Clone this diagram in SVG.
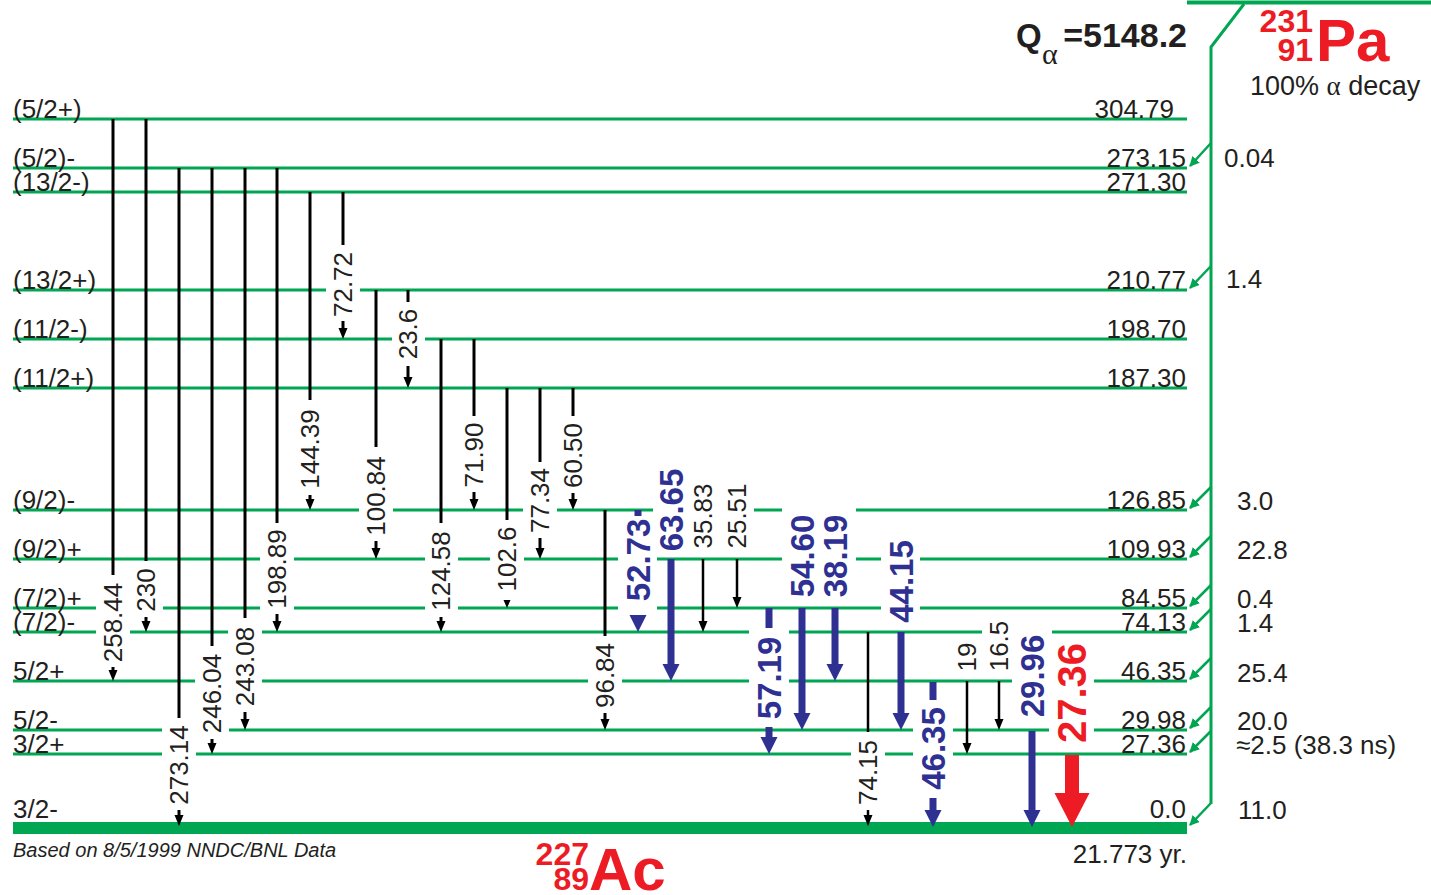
<svg xmlns="http://www.w3.org/2000/svg" width="1431" height="895" viewBox="0 0 1431 895">
<defs>
<style>
text{font-family:"Liberation Sans",Arial,sans-serif;fill:#231f20}
.lv{stroke:#00a651;stroke-width:3;fill:none}
.t{font-size:26px}
.e{font-size:26px;text-anchor:end}
.lb{font-size:26px;text-anchor:middle}
.bl{font-size:33px;font-weight:bold;text-anchor:middle;fill:#2e3192}
.rd{font-size:40px;font-weight:bold;text-anchor:middle;fill:#ed1c24}
.k{stroke:#000;stroke-width:3}
.k2{stroke:#000;stroke-width:2.5}
.kh{fill:#000}
.bs{stroke:#2e3192;stroke-width:7}
.bh{fill:#2e3192}
.gap{fill:#fff}
.ga{stroke:#00a651;stroke-width:2.5;fill:none;marker-end:url(#ga)}
</style>
<marker id="ga" viewBox="0 0 10 10" refX="9" refY="5" markerWidth="4" markerHeight="4" orient="auto" markerUnits="strokeWidth">
<path d="M0,0 L10,5 L0,10 Z" fill="#00a651"/>
</marker>
</defs>
<rect width="1431" height="895" fill="#fff"/>

<g id="levels">
<g id="lvl-304"><line class="lv" x1="13" y1="119" x2="1187" y2="119"/><text class="t" x="13" y="118">(5/2+)</text><text class="e" x="1174" y="118">304.79</text></g>
<g id="lvl-273"><line class="lv" x1="13" y1="168" x2="1187" y2="168"/><text class="t" x="13" y="167">(5/2)-</text><text class="e" x="1186" y="167">273.15</text><text class="t" x="1224" y="167">0.04</text></g>
<g id="lvl-271"><line class="lv" x1="13" y1="192" x2="1187" y2="192"/><text class="t" x="13" y="191">(13/2-)</text><text class="e" x="1186" y="191">271.30</text></g>
<g id="lvl-210"><line class="lv" x1="13" y1="290" x2="1187" y2="290"/><text class="t" x="13" y="289">(13/2+)</text><text class="e" x="1186" y="289">210.77</text><text class="t" x="1226" y="288">1.4</text></g>
<g id="lvl-198"><line class="lv" x1="13" y1="339" x2="1187" y2="339"/><text class="t" x="13" y="338">(11/2-)</text><text class="e" x="1186" y="338">198.70</text></g>
<g id="lvl-187"><line class="lv" x1="13" y1="388" x2="1187" y2="388"/><text class="t" x="13" y="387">(11/2+)</text><text class="e" x="1186" y="387">187.30</text></g>
<g id="lvl-126"><line class="lv" x1="13" y1="510" x2="1187" y2="510"/><text class="t" x="13" y="509">(9/2)-</text><text class="e" x="1186" y="509">126.85</text><text class="t" x="1237" y="510">3.0</text></g>
<g id="lvl-109"><line class="lv" x1="13" y1="559" x2="1187" y2="559"/><text class="t" x="13" y="558">(9/2)+</text><text class="e" x="1186" y="558">109.93</text><text class="t" x="1237" y="559">22.8</text></g>
<g id="lvl-84"><line class="lv" x1="13" y1="608" x2="1187" y2="608"/><text class="t" x="13" y="607">(7/2)+</text><text class="e" x="1186" y="607">84.55</text><text class="t" x="1237" y="608">0.4</text></g>
<g id="lvl-74"><line class="lv" x1="13" y1="632" x2="1187" y2="632"/><text class="t" x="13" y="631">(7/2)-</text><text class="e" x="1186" y="631">74.13</text><text class="t" x="1237" y="632">1.4</text></g>
<g id="lvl-46"><line class="lv" x1="13" y1="681" x2="1187" y2="681"/><text class="t" x="13" y="680">5/2+</text><text class="e" x="1186" y="680">46.35</text><text class="t" x="1237" y="682">25.4</text></g>
<g id="lvl-29"><line class="lv" x1="13" y1="730" x2="1187" y2="730"/><text class="t" x="13" y="729">5/2-</text><text class="e" x="1186" y="729">29.98</text><text class="t" x="1237" y="730">20.0</text></g>
<g id="lvl-27"><line class="lv" x1="13" y1="754" x2="1187" y2="754"/><text class="t" x="13" y="753">3/2+</text><text class="e" x="1186" y="753">27.36</text><text class="t" x="1236" y="754">≈2.5 (38.3 ns)</text></g>
<g id="lvl-0"><rect x="13" y="822" width="1174" height="12" fill="#00a651"/><text class="t" x="13" y="818">3/2-</text><text class="e" x="1186" y="818">0.0</text><text class="t" x="1238" y="819">11.0</text><text class="e" x="1187" y="863">21.773 yr.</text></g>
</g>

<g id="gaps">
<rect class="gap" x="96" y="578" width="34" height="89"/>
<rect class="gap" x="130" y="564" width="33" height="52"/>
<rect class="gap" x="162" y="721" width="34" height="88"/>
<rect class="gap" x="195" y="649" width="34" height="89"/>
<rect class="gap" x="228" y="622" width="34" height="89"/>
<rect class="gap" x="260" y="526" width="34" height="86"/>
<rect class="gap" x="326" y="249" width="34" height="71"/>
<rect class="gap" x="359" y="452" width="34" height="88"/>
<rect class="gap" x="392" y="304" width="33" height="60"/>
<rect class="gap" x="425" y="526" width="33" height="90"/>
<rect class="gap" x="490" y="522" width="34" height="74"/>
<rect class="gap" x="523" y="464" width="34" height="73"/>
<rect class="gap" x="588" y="639" width="34" height="73"/>
<rect class="gap" x="618" y="514" width="39" height="98"/>
<rect class="gap" x="653" y="464" width="37" height="91"/>
<rect class="gap" x="686" y="479" width="34" height="73"/>
<rect class="gap" x="720" y="479" width="34" height="73"/>
<rect class="gap" x="749" y="629" width="40" height="93"/>
<rect class="gap" x="782" y="506" width="38" height="94"/>
<rect class="gap" x="818" y="506" width="38" height="94"/>
<rect class="gap" x="851" y="736" width="34" height="73"/>
<rect class="gap" x="881" y="536" width="39" height="91"/>
<rect class="gap" x="913" y="703" width="40" height="91"/>
<rect class="gap" x="982" y="618" width="34" height="56"/>
<rect class="gap" x="1012" y="629" width="40" height="92"/>
<rect class="gap" x="1049" y="640" width="45" height="107"/>
</g>

<g id="connectors">
<g id="t-258.44"><line class="k" x1="113" y1="119" x2="113" y2="575"/><line class="k" x1="113" y1="667" x2="113" y2="671"/><polygon class="kh" points="108.5,670 117.5,670 113,681"/><text class="lb" transform="translate(122.3,622.5) rotate(-90)">258.44</text></g>
<g id="t-230"><line class="k" x1="146" y1="119" x2="146" y2="561"/><line class="k" x1="146" y1="617" x2="146" y2="622"/><polygon class="kh" points="141.5,621 150.5,621 146,632"/><text class="lb" transform="translate(155.3,590) rotate(-90)">230</text></g>
<g id="t-273.14"><line class="k" x1="179" y1="168" x2="179" y2="718"/><line class="k" x1="179" y1="810" x2="179" y2="816"/><polygon class="kh" points="174.5,815 183.5,815 179,826"/><text class="lb" transform="translate(188.3,765) rotate(-90)">273.14</text></g>
<g id="t-246.04"><line class="k" x1="212" y1="168" x2="212" y2="646"/><line class="k" x1="212" y1="739" x2="212" y2="744"/><polygon class="kh" points="207.5,743 216.5,743 212,754"/><text class="lb" transform="translate(221.3,693.5) rotate(-90)">246.04</text></g>
<g id="t-243.08"><line class="k" x1="245" y1="168" x2="245" y2="618"/><line class="k" x1="245" y1="712" x2="245" y2="720"/><polygon class="kh" points="240.5,719 249.5,719 245,730"/><text class="lb" transform="translate(254.3,666.5) rotate(-90)">243.08</text></g>
<g id="t-198.89"><line class="k" x1="277" y1="168" x2="277" y2="523"/><line class="k" x1="277" y1="614" x2="277" y2="622"/><polygon class="kh" points="272.5,621 281.5,621 277,632"/><text class="lb" transform="translate(286.3,569) rotate(-90)">198.89</text></g>
<g id="t-144.39"><line class="k" x1="310" y1="192" x2="310" y2="400"/><line class="k" x1="310" y1="495" x2="310" y2="500"/><polygon class="kh" points="305.5,499 314.5,499 310,510"/><text class="lb" transform="translate(319.3,449) rotate(-90)">144.39</text></g>
<g id="t-72.72"><line class="k" x1="343" y1="192" x2="343" y2="245"/><line class="k" x1="343" y1="321" x2="343" y2="329"/><polygon class="kh" points="338.5,328 347.5,328 343,339"/><text class="lb" transform="translate(352.3,284.5) rotate(-90)">72.72</text></g>
<g id="t-100.84"><line class="k" x1="376" y1="290" x2="376" y2="447"/><line class="k" x1="376" y1="541" x2="376" y2="549"/><polygon class="kh" points="371.5,548 380.5,548 376,559"/><text class="lb" transform="translate(385.3,496) rotate(-90)">100.84</text></g>
<g id="t-23.6"><line class="k" x1="408" y1="290" x2="408" y2="302"/><line class="k" x1="408" y1="366" x2="408" y2="378"/><polygon class="kh" points="403.5,377 412.5,377 408,388"/><text class="lb" transform="translate(417.3,334) rotate(-90)">23.6</text></g>
<g id="t-124.58"><line class="k" x1="441" y1="339" x2="441" y2="523"/><line class="k" x1="441" y1="617" x2="441" y2="622"/><polygon class="kh" points="436.5,621 445.5,621 441,632"/><text class="lb" transform="translate(450.3,571) rotate(-90)">124.58</text></g>
<g id="t-71.90"><line class="k" x1="474" y1="339" x2="474" y2="416"/><line class="k" x1="474" y1="492" x2="474" y2="500"/><polygon class="kh" points="469.5,499 478.5,499 474,510"/><text class="lb" transform="translate(483.3,455) rotate(-90)">71.90</text></g>
<g id="t-102.6"><line class="k" x1="507" y1="388" x2="507" y2="520"/><polygon class="kh" points="503.5,600 510.5,600 507,608"/><text class="lb" transform="translate(516.3,559) rotate(-90)">102.6</text></g>
<g id="t-77.34"><line class="k" x1="540" y1="388" x2="540" y2="462"/><line class="k" x1="540" y1="538" x2="540" y2="549"/><polygon class="kh" points="535.5,548 544.5,548 540,559"/><text class="lb" transform="translate(549.3,500.5) rotate(-90)">77.34</text></g>
<g id="t-60.50"><line class="k" x1="573" y1="388" x2="573" y2="416"/><line class="k" x1="573" y1="493" x2="573" y2="500"/><polygon class="kh" points="568.5,499 577.5,499 573,510"/><text class="lb" transform="translate(582.3,455.5) rotate(-90)">60.50</text></g>
<g id="t-96.84"><line class="k" x1="605" y1="510" x2="605" y2="636"/><line class="k" x1="605" y1="713" x2="605" y2="720"/><polygon class="kh" points="600.5,719 609.5,719 605,730"/><text class="lb" transform="translate(614.3,675.5) rotate(-90)">96.84</text></g>
<g id="t-52.73"><line class="bs" x1="638" y1="510" x2="638" y2="516"/><polygon class="bh" points="629.5,615 646.5,615 638,632"/><text class="bl" transform="translate(649.8,560) rotate(-90)">52.73</text></g>
<g id="t-63.65"><line class="bs" x1="671" y1="559" x2="671" y2="666"/><polygon class="bh" points="662.5,664 679.5,664 671,681"/><text class="bl" transform="translate(682.8,510) rotate(-90)">63.65</text></g>
<g id="t-35.83"><line class="k2" x1="703" y1="559" x2="703" y2="622"/><polygon class="kh" points="698.5,621 707.5,621 703,632"/><text class="lb" transform="translate(712.3,516) rotate(-90)">35.83</text></g>
<g id="t-25.51"><line class="k2" x1="737" y1="559" x2="737" y2="598"/><polygon class="kh" points="732.5,597 741.5,597 737,608"/><text class="lb" transform="translate(746.3,516) rotate(-90)">25.51</text></g>
<g id="t-57.19"><line class="bs" x1="769" y1="608" x2="769" y2="628"/><line class="bs" x1="769" y1="727" x2="769" y2="739"/><polygon class="bh" points="760.5,737 777.5,737 769,754"/><text class="bl" transform="translate(780.8,678) rotate(-90)">57.19</text></g>
<g id="t-54.60"><line class="bs" x1="802" y1="608" x2="802" y2="715"/><polygon class="bh" points="793.5,713 810.5,713 802,730"/><text class="bl" transform="translate(813.8,556) rotate(-90)">54.60</text></g>
<g id="t-38.19"><line class="bs" x1="835" y1="608" x2="835" y2="666"/><polygon class="bh" points="826.5,664 843.5,664 835,681"/><text class="bl" transform="translate(846.8,556) rotate(-90)">38.19</text></g>
<g id="t-74.15"><line class="k2" x1="868" y1="632" x2="868" y2="732"/><line class="k2" x1="868" y1="810" x2="868" y2="816"/><polygon class="kh" points="863.5,815 872.5,815 868,826"/><text class="lb" transform="translate(877.3,772.5) rotate(-90)">74.15</text></g>
<g id="t-44.15"><line class="bs" x1="901" y1="632" x2="901" y2="715"/><polygon class="bh" points="892.5,713 909.5,713 901,730"/><text class="bl" transform="translate(912.8,581.5) rotate(-90)">44.15</text></g>
<g id="t-46.35"><line class="bs" x1="933" y1="682" x2="933" y2="700"/><line class="bs" x1="933" y1="798" x2="933" y2="812"/><polygon class="bh" points="924.5,810 941.5,810 933,827"/><text class="bl" transform="translate(944.8,748.5) rotate(-90)">46.35</text></g>
<g id="t-19"><line class="k2" x1="967" y1="681" x2="967" y2="744"/><polygon class="kh" points="962.5,743 971.5,743 967,754"/><text class="lb" transform="translate(976.3,657) rotate(-90)">19</text></g>
<g id="t-16.5"><line class="k2" x1="999" y1="681" x2="999" y2="720"/><polygon class="kh" points="994.5,719 1003.5,719 999,730"/><text class="lb" transform="translate(1008.3,646) rotate(-90)">16.5</text></g>
<g id="t-29.96"><line class="bs" x1="1032" y1="731" x2="1032" y2="812"/><polygon class="bh" points="1023.5,810 1040.5,810 1032,827"/><text class="bl" transform="translate(1043.8,676) rotate(-90)">29.96</text></g>
<g id="t-27.36"><rect x="1065" y="755" width="14" height="40" fill="#ed1c24"/><polygon points="1054.5,793 1089.5,793 1072,827" fill="#ed1c24"/><text class="rd" transform="translate(1086.3,693) rotate(-90)">27.36</text></g>

<g id="alpha-feed">
<line class="lv" x1="1187" y1="2.5" x2="1431" y2="2.5" style="stroke-width:4"/>
<polyline class="lv" points="1244,4 1211,47 1211,804"/>
<line class="ga" x1="1211" y1="143" x2="1190" y2="166"/>
<line class="ga" x1="1211" y1="266" x2="1190" y2="288"/>
<line class="ga" x1="1211" y1="487" x2="1190" y2="508"/>
<line class="ga" x1="1211" y1="536" x2="1190" y2="557"/>
<line class="ga" x1="1211" y1="585" x2="1190" y2="606"/>
<line class="ga" x1="1211" y1="609" x2="1190" y2="630"/>
<line class="ga" x1="1211" y1="658" x2="1190" y2="679"/>
<line class="ga" x1="1211" y1="707" x2="1190" y2="728"/>
<line class="ga" x1="1211" y1="731" x2="1190" y2="752"/>
<line class="ga" x1="1211" y1="803" x2="1190" y2="825"/>
</g>
</g>

<g id="parent">
<text x="1016" y="47" style="font-size:33px;font-weight:bold">Q</text>
<text x="1042" y="64" style="font-family:'Liberation Serif',serif;font-size:30px">α</text>
<text x="1187" y="47" style="font-size:34px;font-weight:bold;text-anchor:end">=5148.2</text>
<text x="1313" y="32" style="font-size:32px;font-weight:bold;fill:#ed1c24;text-anchor:end">231</text>
<text x="1313" y="61" style="font-size:32px;font-weight:bold;fill:#ed1c24;text-anchor:end">91</text>
<text x="1316" y="61" style="font-size:60px;font-weight:bold;fill:#ed1c24">Pa</text>
<text x="1250" y="95" style="font-size:27px">100% <tspan style="font-family:'Liberation Serif',serif">α</tspan> decay</text>
</g>

<g id="daughter">
<text x="589" y="865" style="font-size:32px;font-weight:bold;fill:#ed1c24;text-anchor:end">227</text>
<text x="589" y="890" style="font-size:32px;font-weight:bold;fill:#ed1c24;text-anchor:end">89</text>
<text x="589" y="890" style="font-size:60px;font-weight:bold;fill:#ed1c24">Ac</text>
<text x="13" y="857" style="font-size:20px;font-style:italic">Based on 8/5/1999 NNDC/BNL Data</text>
</g>
</svg>
